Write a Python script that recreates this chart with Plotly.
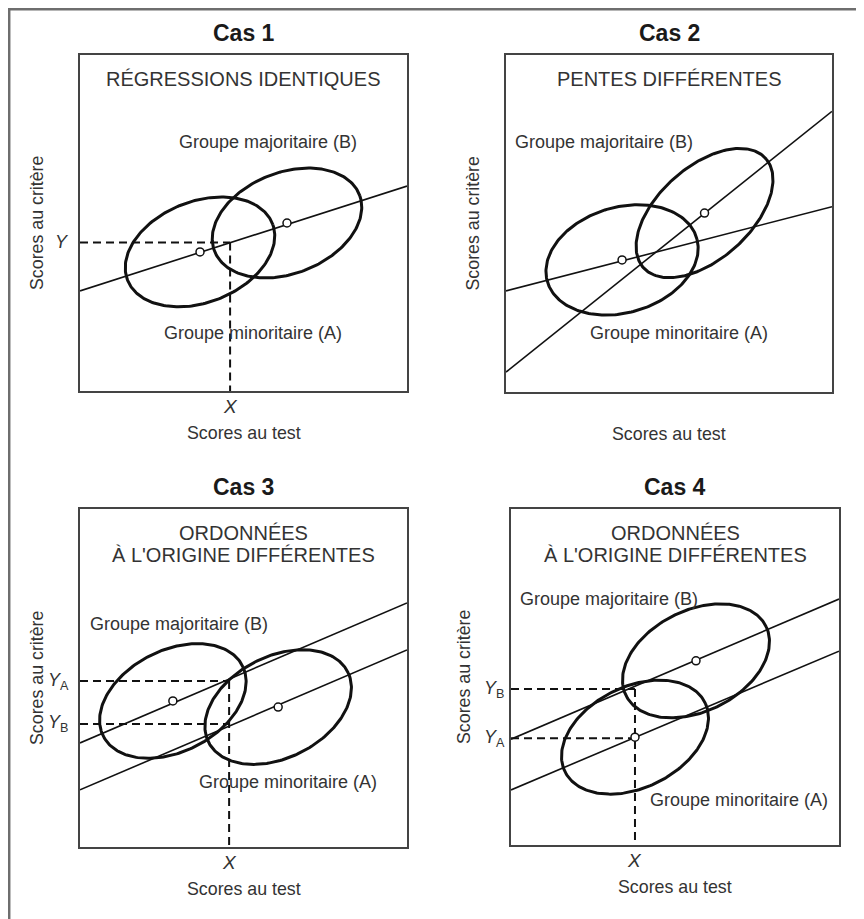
import numpy as np
import plotly.graph_objects as go

# ---------------- data ----------------
CAS_TITLES = ["Cas 1", "Cas 2", "Cas 3", "Cas 4"]
HEADINGS = [
    ["RÉGRESSIONS IDENTIQUES"],
    ["PENTES DIFFÉRENTES"],
    ["ORDONNÉES", "À L'ORIGINE DIFFÉRENTES"],
    ["ORDONNÉES", "À L'ORIGINE DIFFÉRENTES"],
]
HEADING_Y = [[92.9], [92.9], [92.9, 86.4], [92.9, 86.4]]
X_AXIS_LABEL = "Scores au test"
Y_AXIS_LABEL = "Scores au critère"
GROUP_B_TEXT = "Groupe majoritaire (B)"
GROUP_A_TEXT = "Groupe minoritaire (A)"
GROUP_B_X = [57.5, 30.1, 30.3, 29.9]
GROUP_B_Y = [74.1, 74.2, 66.0, 73.2]
GROUP_A_X = [52.9, 53.1, 63.6, 69.5]
GROUP_A_Y = [17.3, 17.5, 19.2, 13.4]

# regression lines: y at x = 0 and x = 100
LINE_X = [0, 100]
LINES_Y = [
    [[29.8, 61.0]],
    [[30.0, 55.0], [5.9, 83.3]],
    [[30.8, 72.2], [16.9, 58.3]],
    [[31.5, 73.2], [16.4, 57.7]],
]

# ellipses (per panel: two groups)
ELLIPSE_CX = [[36.7, 63.3], [35.6, 60.9], [28.4, 60.6], [37.8, 56.4]]
ELLIPSE_CY = [[41.4, 50.0], [39.2, 53.1], [43.2, 41.4], [32.1, 54.8]]
ELLIPSE_A = [[23.7, 23.7], [23.8, 24.8], [23.7, 23.7], [23.7, 23.7]]
ELLIPSE_B = [[15.1, 15.1], [15.7, 13.9], [15.1, 15.1], [15.1, 15.1]]
ELLIPSE_TILT = [[20, 20], [15, 40], [25, 25], [25, 25]]

# reference values (dashed guides)
X_REF = [45.9, None, 45.6, 37.8]
Y_REF = [[44.2], [], [49.1, 36.4], [46.4, 31.8]]
Y_REF_TEXT = [["<i>Y</i>"], [], ["<i>Y</i><sub>A</sub>", "<i>Y</i><sub>B</sub>"],
              ["<i>Y</i><sub>B</sub>", "<i>Y</i><sub>A</sub>"]]
X_REF_TEXT = "<i>X</i>"

# ---------------- layout geometry (page pixels) ----------------
PAGE_W, PAGE_H = 864, 919
OFF = 8  # default page margin around the plot div
W, H = PAGE_W - OFF, PAGE_H - OFF
BOX_X = [(80, 407), (506, 832), (80, 407), (511, 839)]
BOX_Y = [(55, 391), (55, 392), (509, 847), (509, 845)]
YLAB_SHIFT = [-43, -34, -43, -47]
YREF_SHIFT = [-18, 0, -22, -17]

FONT = "Liberation Sans, Arial, Helvetica, sans-serif"
INK = "#111111"
TXT = "#333333"

fig = go.Figure()


def ellipse_xy(cx, cy, a, b, tilt):
    t = np.linspace(0, 2 * np.pi, 241)
    th = np.radians(tilt)
    x = cx + a * np.cos(t) * np.cos(th) - b * np.sin(t) * np.sin(th)
    y = cy + a * np.cos(t) * np.sin(th) + b * np.sin(t) * np.cos(th)
    return x, y


annotations = []
for i in range(4):
    sfx = "" if i == 0 else str(i + 1)
    xa, ya = "x" + sfx, "y" + sfx

    # dashed guides
    dash = dict(color=INK, width=2, dash="8px,5px")
    if X_REF[i] is not None:
        for yv in Y_REF[i]:
            fig.add_trace(go.Scatter(x=[0, X_REF[i]], y=[yv, yv], mode="lines",
                                     line=dash, xaxis=xa, yaxis=ya, hoverinfo="skip"))
        fig.add_trace(go.Scatter(x=[X_REF[i], X_REF[i]], y=[max(Y_REF[i]), 0], mode="lines",
                                 line=dash, xaxis=xa, yaxis=ya, hoverinfo="skip"))

    # regression lines
    for ly in LINES_Y[i]:
        fig.add_trace(go.Scatter(x=LINE_X, y=ly, mode="lines",
                                 line=dict(color=INK, width=1.6),
                                 xaxis=xa, yaxis=ya, hoverinfo="skip"))

    # ellipses
    for k in range(2):
        ex, ey = ellipse_xy(ELLIPSE_CX[i][k], ELLIPSE_CY[i][k], ELLIPSE_A[i][k],
                            ELLIPSE_B[i][k], ELLIPSE_TILT[i][k])
        fig.add_trace(go.Scatter(x=ex, y=ey, mode="lines",
                                 line=dict(color=INK, width=3),
                                 xaxis=xa, yaxis=ya, hoverinfo="skip"))

    # centres
    fig.add_trace(go.Scatter(x=ELLIPSE_CX[i], y=ELLIPSE_CY[i], mode="markers",
                             marker=dict(symbol="circle", size=8, color="white",
                                         line=dict(color=INK, width=1.5)),
                             xaxis=xa, yaxis=ya, hoverinfo="skip"))

    xd, yd = xa + " domain", ya + " domain"
    # title
    annotations.append(dict(text="<b>" + CAS_TITLES[i] + "</b>", xref=xd, yref=yd, x=0.5, y=1,
                            yshift=22, yanchor="middle", showarrow=False,
                            font=dict(family=FONT, size=23, color="#1a1a1a")))
    # headings
    for txt, hy in zip(HEADINGS[i], HEADING_Y[i]):
        annotations.append(dict(text=txt, xref=xa, yref=ya, x=50, y=hy, showarrow=False,
                                yanchor="middle", font=dict(family=FONT, size=20, color=TXT)))
    # group labels
    annotations.append(dict(text=GROUP_B_TEXT, xref=xa, yref=ya, x=GROUP_B_X[i], y=GROUP_B_Y[i],
                            showarrow=False, font=dict(family=FONT, size=18, color=TXT)))
    annotations.append(dict(text=GROUP_A_TEXT, xref=xa, yref=ya, x=GROUP_A_X[i], y=GROUP_A_Y[i],
                            showarrow=False, font=dict(family=FONT, size=18, color=TXT)))
    # axis labels
    annotations.append(dict(text=X_AXIS_LABEL, xref=xd, yref=yd, x=0.5, y=0, yshift=-42,
                            yanchor="middle", showarrow=False,
                            font=dict(family=FONT, size=17.8, color=TXT)))
    annotations.append(dict(text=Y_AXIS_LABEL, xref=xd, yref=yd, x=0, y=0.5,
                            xshift=YLAB_SHIFT[i], textangle=-90, showarrow=False,
                            xanchor="center", yanchor="middle",
                            font=dict(family=FONT, size=17.8, color=TXT)))
    # reference labels
    if X_REF[i] is not None:
        annotations.append(dict(text=X_REF_TEXT, xref=xa, yref=yd, x=X_REF[i], y=0, yshift=-15,
                                yanchor="middle", showarrow=False,
                                font=dict(family=FONT, size=19, color=TXT)))
        for yv, yt in zip(Y_REF[i], Y_REF_TEXT[i]):
            annotations.append(dict(text=yt, xref=xd, yref=ya, x=0, y=yv, xshift=YREF_SHIFT[i],
                                    xanchor="center", yanchor="middle", showarrow=False,
                                    font=dict(family=FONT, size=18, color=TXT)))

layout = dict(
    width=W, height=H, margin=dict(l=0, r=0, t=0, b=0),
    paper_bgcolor="white", plot_bgcolor="white", showlegend=False,
    annotations=annotations,
    shapes=[
        dict(type="line", xref="paper", yref="paper", x0=0, x1=1, y0=1 - 1.2 / H, y1=1 - 1.2 / H,
             line=dict(color="#6e6e6e", width=2.5)),
        dict(type="line", xref="paper", yref="paper", x0=1.2 / W, x1=1.2 / W, y0=0, y1=1,
             line=dict(color="#6e6e6e", width=2.5)),
    ],
)
for i in range(4):
    sfx = "" if i == 0 else str(i + 1)
    bx, by = BOX_X[i], BOX_Y[i]
    axis_common = dict(range=[0, 100], showgrid=False, zeroline=False, showticklabels=False,
                       ticks="", showline=True, mirror=True, linecolor="#444444", linewidth=2,
                       fixedrange=True)
    layout["xaxis" + sfx] = dict(domain=[(bx[0] - OFF) / W, (bx[1] - OFF) / W],
                                 anchor="y" + sfx, **axis_common)
    layout["yaxis" + sfx] = dict(domain=[1 - (by[1] - OFF) / H, 1 - (by[0] - OFF) / H],
                                 anchor="x" + sfx, **axis_common)

fig.update_layout(**layout)
fig.write_html("out.html")
